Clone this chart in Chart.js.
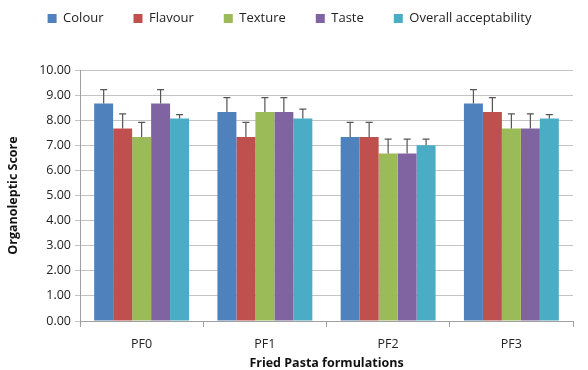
<!DOCTYPE html>
<html>
<head>
<meta charset="utf-8">
<script src="https://cdn.jsdelivr.net/npm/chart.js@4.4.1/dist/chart.umd.min.js"></script>
<style>
  html, body { margin: 0; padding: 0; background: #fff; }
  #wrap { width: 588px; height: 370px; }
</style>
</head>
<body>
<div id="wrap"><canvas id="chart"></canvas></div>
<script>
// Sensory scores of fried pasta formulations
const formulations = ['PF0', 'PF1', 'PF2', 'PF3'];
const attributes = ['Colour', 'Flavour', 'Texture', 'Taste', 'Overall acceptability'];
const colours = ['#4F81BD', '#C0504D', '#9BBB59', '#8064A2', '#4BACC6'];

const colourScores = [8.67, 8.33, 7.33, 8.67];
const flavourScores = [7.67, 7.33, 7.33, 8.33];
const textureScores = [7.33, 8.33, 6.67, 7.67];
const tasteScores = [8.67, 8.33, 6.67, 7.67];
const overallScores = [8.07, 8.07, 7.00, 8.07];

const colourErr = [0.55, 0.57, 0.58, 0.55];
const flavourErr = [0.58, 0.58, 0.58, 0.57];
const textureErr = [0.58, 0.57, 0.58, 0.58];
const tasteErr = [0.55, 0.57, 0.58, 0.58];
const overallErr = [0.15, 0.37, 0.25, 0.15];

const yTicks = [0, 1, 2, 3, 4, 5, 6, 7, 8, 9, 10];

const scores = [colourScores, flavourScores, textureScores, tasteScores, overallScores];
const errors = [colourErr, flavourErr, textureErr, tasteErr, overallErr];

// draws upper error bars with a cap
const errorBars = {
    id: 'errorBars',
    afterDatasetsDraw(chart) {
        const ctx = chart.ctx;
        const y = chart.scales.y;
        ctx.save();
        ctx.strokeStyle = '#555555';
        ctx.lineWidth = 1.2;
        chart.data.datasets.forEach((ds, i) => {
            const meta = chart.getDatasetMeta(i);
            meta.data.forEach((bar, j) => {
                const top = y.getPixelForValue(ds.data[j] + ds.errors[j]);
                ctx.beginPath();
                ctx.moveTo(bar.x, bar.y);
                ctx.lineTo(bar.x, top);
                ctx.moveTo(bar.x - 3.5, top);
                ctx.lineTo(bar.x + 3.5, top);
                ctx.stroke();
            });
        });
        ctx.restore();
    }
};

// extra room between the legend and the plot
const legendGap = {
    id: 'legendGap',
    beforeInit(chart) {
        const fit = chart.legend.fit;
        chart.legend.fit = function () {
            fit.call(this);
            this.height += 35;
        };
    }
};

new Chart(document.getElementById('chart'), {
    type: 'bar',
    data: {
        labels: formulations,
        datasets: attributes.map((name, i) => ({
            label: name,
            data: scores[i],
            errors: errors[i],
            backgroundColor: colours[i],
            borderWidth: 0,
            barPercentage: 1,
            categoryPercentage: 0.77
        }))
    },
    options: {
        responsive: true,
        maintainAspectRatio: false,
        animation: false,
        layout: { padding: { left: 6, right: 15, top: -18, bottom: 0 } },
        plugins: {
            tooltip: { enabled: false },
            legend: {
                position: 'top',
                labels: {
                    boxWidth: 9,
                    boxHeight: 9,
                    padding: 30,
                    color: '#222',
                    font: { family: 'Open Sans', size: 13 }
                }
            }
        },
        scales: {
            x: {
                grid: { drawOnChartArea: false, offset: true, tickLength: 6, color: '#a0a0a0' },
                border: { color: '#a0a0a0' },
                ticks: { color: '#222', font: { family: 'Open Sans', size: 12.5, lineHeight: 1 }, padding: 11 },
                title: {
                    display: true,
                    text: 'Fried Pasta formulations',
                    color: '#111',
                    font: { family: 'Open Sans', size: 12.5, weight: 'bold', lineHeight: 1 },
                    padding: { top: -4, bottom: 0 }
                }
            },
            y: {
                min: 0,
                max: 10,
                afterBuildTicks(scale) { scale.ticks = yTicks.map(v => ({ value: v })); },
                afterFit(scale) { scale.width = 74; },
                grid: { color: '#c4c4c4', tickLength: 5 },
                border: { color: '#a0a0a0' },
                ticks: {
                    color: '#222',
                    font: { family: 'Open Sans', size: 12.5 },
                    padding: 4,
                    callback: v => Number(v).toFixed(2)
                },
                title: {
                    display: true,
                    text: 'Organoleptic Score',
                    color: '#111',
                    font: { family: 'Open Sans', size: 12.5, weight: 'bold' },
                    padding: { top: 0, bottom: 2 }
                }
            }
        }
    },
    plugins: [errorBars, legendGap]
});
</script>
</body>
</html>
